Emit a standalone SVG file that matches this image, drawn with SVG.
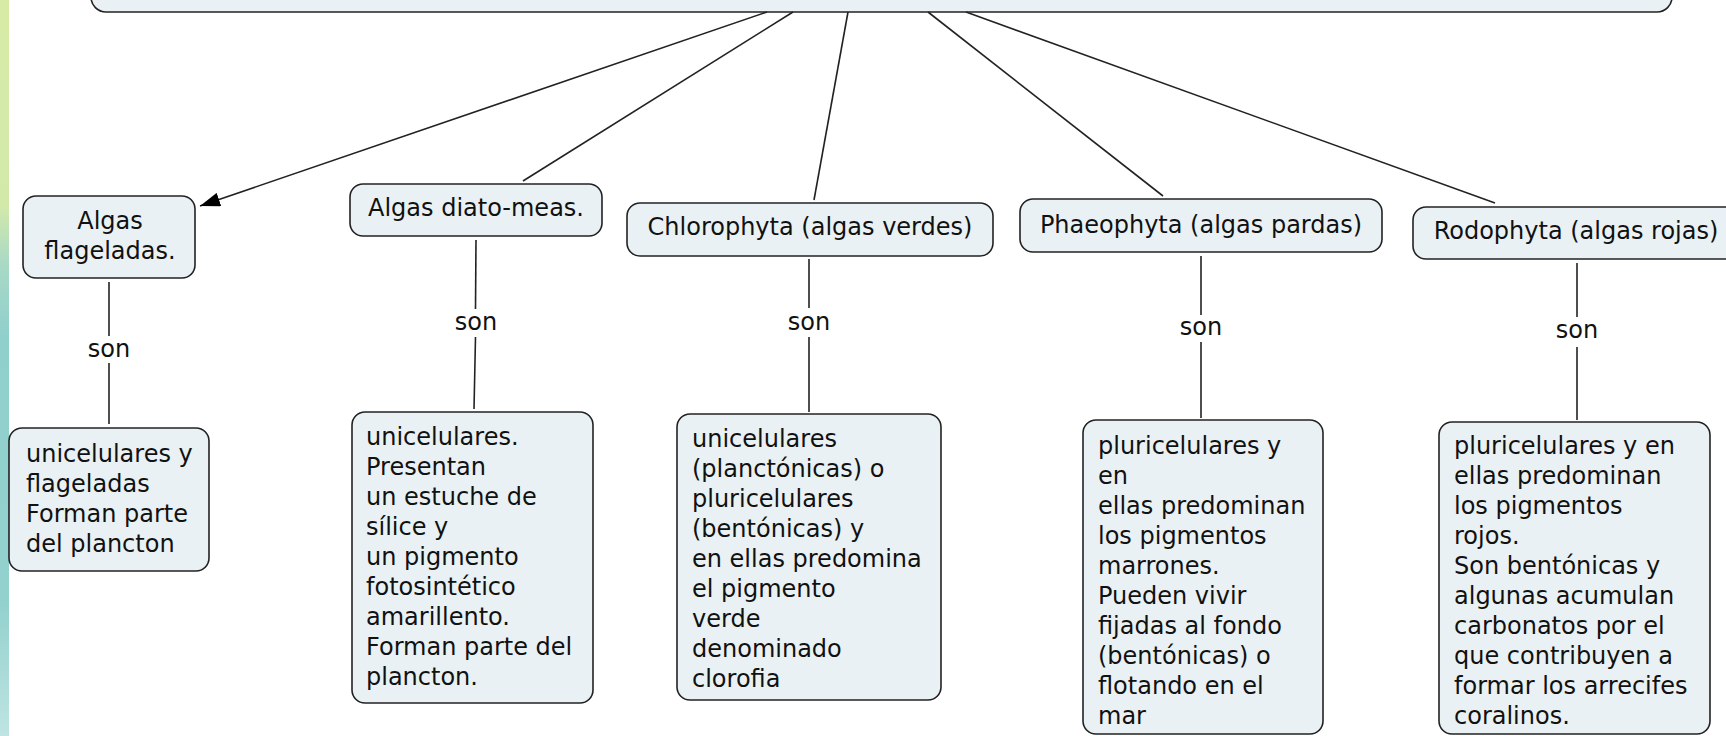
<svg xmlns="http://www.w3.org/2000/svg" width="1726" height="736" viewBox="0 0 1726 736">
<defs>
<linearGradient id="strip" x1="0" y1="0" x2="0" y2="1">
<stop offset="0" stop-color="#d7eba6"/>
<stop offset="0.28" stop-color="#d2e9ab"/>
<stop offset="0.36" stop-color="#a9d9c6"/>
<stop offset="0.46" stop-color="#8fcfcc"/>
<stop offset="0.82" stop-color="#93d1ce"/>
<stop offset="1" stop-color="#bfe4e2"/>
</linearGradient>
<marker id="arrow" markerUnits="userSpaceOnUse" markerWidth="20" markerHeight="14" refX="20" refY="7" orient="auto">
<path d="M0,0 L20,7 L0,14 z" fill="#000"/>
</marker>
<style>
.box{fill:#eaf1f4;stroke:#222;stroke-width:1.6}
.t{font-family:"DejaVu Sans","Verdana",sans-serif;font-size:24px;fill:#111}
.c{text-anchor:middle}
.ln{stroke:#222;stroke-width:1.6;fill:none}
</style>
</defs>
<rect x="0" y="0" width="1726" height="736" fill="#fff"/>
<rect x="0" y="0" width="9" height="736" fill="url(#strip)"/>

<g id="top">
<rect class="box" x="91" y="-40" width="1581" height="52" rx="15"/>
</g>

<g id="connectors">
<line class="ln" x1="767" y1="12" x2="200" y2="206" marker-end="url(#arrow)"/>
<line class="ln" x1="793" y1="12" x2="523" y2="181"/>
<line class="ln" x1="848" y1="12" x2="814" y2="200"/>
<line class="ln" x1="928" y1="12" x2="1163" y2="196"/>
<line class="ln" x1="966" y1="12" x2="1495" y2="203"/>

<line class="ln" x1="109" y1="282" x2="109" y2="336"/>
<line class="ln" x1="109" y1="363" x2="109" y2="424"/>
<text class="t c" x="109" y="357">son</text>

<line class="ln" x1="476" y1="240" x2="475.5" y2="309"/>
<line class="ln" x1="475.5" y1="337" x2="474" y2="409"/>
<text class="t c" x="476" y="330">son</text>

<line class="ln" x1="809" y1="259" x2="809" y2="308"/>
<line class="ln" x1="809" y1="337" x2="809" y2="412"/>
<text class="t c" x="809" y="330">son</text>

<line class="ln" x1="1201" y1="256" x2="1201" y2="315"/>
<line class="ln" x1="1201" y1="342" x2="1201" y2="418"/>
<text class="t c" x="1201" y="335">son</text>

<line class="ln" x1="1577" y1="263" x2="1577" y2="317"/>
<line class="ln" x1="1577" y1="347" x2="1577" y2="420"/>
<text class="t c" x="1577" y="338">son</text>
</g>

<g id="algas-flageladas">
<rect class="box" x="23" y="196" width="172" height="82" rx="13"/>
<text class="t c" x="110" y="229">Algas</text>
<text class="t c" x="110" y="259">flageladas.</text>
</g>

<g id="algas-diatomeas">
<rect class="box" x="350" y="184" width="252" height="52" rx="13"/>
<text class="t c" x="476" y="216">Algas diato-meas.</text>
</g>

<g id="chlorophyta">
<rect class="box" x="627" y="203" width="366" height="53" rx="13"/>
<text class="t c" x="810" y="235">Chlorophyta (algas verdes)</text>
</g>

<g id="phaeophyta">
<rect class="box" x="1020" y="199" width="362" height="53" rx="13"/>
<text class="t c" x="1201" y="233">Phaeophyta (algas pardas)</text>
</g>

<g id="rodophyta">
<rect class="box" x="1413" y="207" width="328" height="52" rx="13"/>
<text class="t c" x="1576" y="239">Rodophyta (algas rojas)</text>
</g>

<g id="desc-flageladas">
<rect class="box" x="9" y="428" width="200" height="143" rx="13"/>
<text class="t" x="26" y="462">unicelulares y</text>
<text class="t" x="26" y="492">flageladas</text>
<text class="t" x="26" y="522">Forman parte</text>
<text class="t" x="26" y="552">del plancton</text>
</g>

<g id="desc-diatomeas">
<rect class="box" x="352" y="412" width="241" height="291" rx="13"/>
<text class="t" x="366" y="445">unicelulares.</text>
<text class="t" x="366" y="475">Presentan</text>
<text class="t" x="366" y="505">un estuche de</text>
<text class="t" x="366" y="535">sílice y</text>
<text class="t" x="366" y="565">un pigmento</text>
<text class="t" x="366" y="595">fotosintético</text>
<text class="t" x="366" y="625">amarillento.</text>
<text class="t" x="366" y="655">Forman parte del</text>
<text class="t" x="366" y="685">plancton.</text>
</g>

<g id="desc-chlorophyta">
<rect class="box" x="677" y="414" width="264" height="286" rx="13"/>
<text class="t" x="692" y="447">unicelulares</text>
<text class="t" x="692" y="477">(planctónicas) o</text>
<text class="t" x="692" y="507">pluricelulares</text>
<text class="t" x="692" y="537">(bentónicas) y</text>
<text class="t" x="692" y="567">en ellas predomina</text>
<text class="t" x="692" y="597">el pigmento</text>
<text class="t" x="692" y="627">verde</text>
<text class="t" x="692" y="657">denominado</text>
<text class="t" x="692" y="687">clorofia</text>
</g>

<g id="desc-phaeophyta">
<rect class="box" x="1083" y="420" width="240" height="314" rx="13"/>
<text class="t" x="1098" y="454">pluricelulares y</text>
<text class="t" x="1098" y="484">en</text>
<text class="t" x="1098" y="514">ellas predominan</text>
<text class="t" x="1098" y="544">los pigmentos</text>
<text class="t" x="1098" y="574">marrones.</text>
<text class="t" x="1098" y="604">Pueden vivir</text>
<text class="t" x="1098" y="634">fijadas al fondo</text>
<text class="t" x="1098" y="664">(bentónicas) o</text>
<text class="t" x="1098" y="694">flotando en el</text>
<text class="t" x="1098" y="724">mar</text>
</g>

<g id="desc-rodophyta">
<rect class="box" x="1439" y="422" width="271" height="312" rx="13"/>
<text class="t" x="1454" y="454">pluricelulares y en</text>
<text class="t" x="1454" y="484">ellas predominan</text>
<text class="t" x="1454" y="514">los pigmentos</text>
<text class="t" x="1454" y="544">rojos.</text>
<text class="t" x="1454" y="574">Son bentónicas y</text>
<text class="t" x="1454" y="604">algunas acumulan</text>
<text class="t" x="1454" y="634">carbonatos por el</text>
<text class="t" x="1454" y="664">que contribuyen a</text>
<text class="t" x="1454" y="694">formar los arrecifes</text>
<text class="t" x="1454" y="724">coralinos.</text>
</g>
</svg>
